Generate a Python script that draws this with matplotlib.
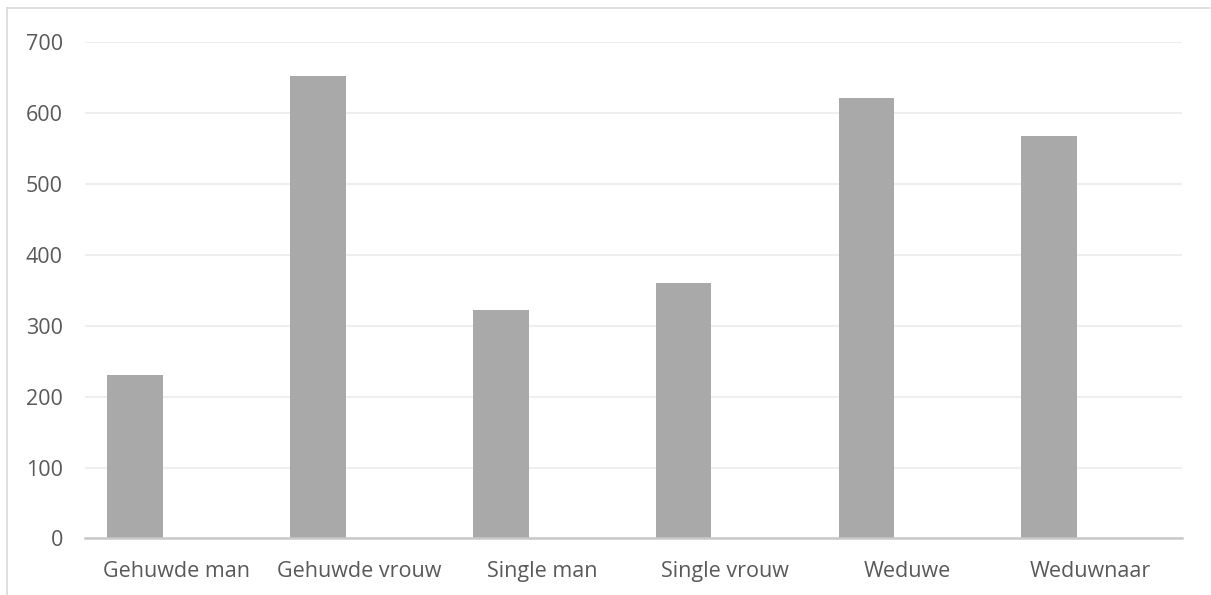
#!/usr/bin/env python3

import matplotlib
matplotlib.use("Agg")
import matplotlib.pyplot as plt
from matplotlib.lines import Line2D


CATEGORIES = ["Gehuwde man", "Gehuwde vrouw", "Single man", "Single vrouw", "Weduwe", "Weduwnaar"]
VALUES = [230, 653, 323, 361, 621, 568]
Y_TICKS = [0, 100, 200, 300, 400, 500, 600, 700]

FIGURE_WIDTH_PX = 1211
FIGURE_HEIGHT_PX = 595
FIGURE_DPI = 100
BAR_COLOR = "#a9a9a9"
TEXT_COLOR = "#595959"
GRID_COLOR = "#efefef"
AXIS_COLOR = "#c9c9c9"
BORDER_COLOR = "#d9d9d9"
BAR_OFFSET = -0.225
BAR_WIDTH = 0.304


def main() -> int:
    plt.rcParams["font.family"] = ["Open Sans", "DejaVu Sans"]

    fig = plt.figure(
        figsize=(FIGURE_WIDTH_PX / FIGURE_DPI, FIGURE_HEIGHT_PX / FIGURE_DPI),
        dpi=FIGURE_DPI,
    )
    ax = fig.add_axes([85 / 1211, 0.09513, 1096.7 / 1211, 0.83345])

    positions = [i + BAR_OFFSET for i in range(len(CATEGORIES))]
    ax.bar(positions, VALUES, width=BAR_WIDTH, color=BAR_COLOR, zorder=3)

    ax.set_xlim(-0.5, len(CATEGORIES) - 0.5)
    ax.set_ylim(0, 700)
    ax.set_xticks(range(len(CATEGORIES)))
    ax.set_xticklabels(CATEGORIES)
    ax.set_yticks(Y_TICKS)

    ax.tick_params(axis="both", length=0, colors=TEXT_COLOR, labelsize=15.5)
    ax.tick_params(axis="y", pad=16)
    ax.tick_params(axis="x", pad=16)

    ax.grid(axis="y", color=GRID_COLOR, linewidth=1.5, zorder=0)
    for side in ("top", "right", "left"):
        ax.spines[side].set_visible(False)
    ax.spines["bottom"].set_color(AXIS_COLOR)
    ax.spines["bottom"].set_linewidth(1.8)
    ax.spines["bottom"].set_zorder(4)

    # chart border, only the top and left edges are inside the picture
    x0 = 6.5 / FIGURE_WIDTH_PX
    y0 = 1 - 8 / FIGURE_HEIGHT_PX
    fig.add_artist(Line2D([x0, x0], [0, y0], color=BORDER_COLOR, linewidth=1.2))
    fig.add_artist(Line2D([x0, 1210 / FIGURE_WIDTH_PX], [y0, y0], color=BORDER_COLOR, linewidth=1.2))

    fig.savefig("out.png", dpi=FIGURE_DPI)
    return 0


if __name__ == "__main__":
    raise SystemExit(main())
